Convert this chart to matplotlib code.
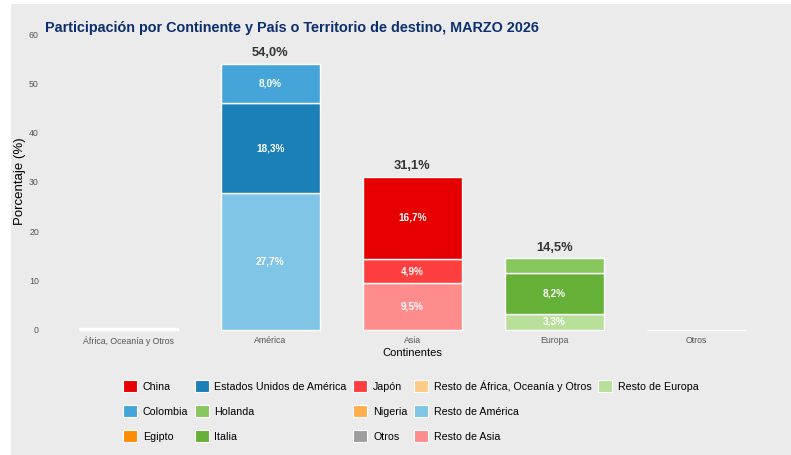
import matplotlib.pyplot as plt
from matplotlib.patches import Rectangle, Patch

plt.rcParams['font.family'] = ['Liberation Sans', 'DejaVu Sans']

TITLE = "Participación por Continente y País o Territorio de destino, MARZO 2026"
continents = ["África, Oceanía y Otros", "América", "Asia", "Europa", "Otros"]

# (pais, valor) in stacking order: resto at the bottom
africa = [("Resto de África, Oceanía y Otros", 0.1), ("Nigeria", 0.1), ("Egipto", 0.1)]
america = [("Resto de América", 27.7), ("Estados Unidos de América", 18.3), ("Colombia", 8.0)]
asia = [("Resto de Asia", 9.5), ("Japón", 4.9), ("China", 16.7)]
europa = [("Resto de Europa", 3.3), ("Italia", 8.2), ("Holanda", 3.0)]
otros = [("Otros", 0.05)]
totals = [0.3, 54.0, 31.1, 14.5, 0.05]

legend_names = ["China", "Colombia", "Egipto", "Estados Unidos de América",
                "Holanda", "Italia", "Japón", "Nigeria", "Otros",
                "Resto de África, Oceanía y Otros", "Resto de América",
                "Resto de Asia", "Resto de Europa"]

colors = {
    "China": "#E60000",
    "Colombia": "#45A5D8",
    "Egipto": "#FF8C00",
    "Estados Unidos de América": "#1C80B8",
    "Holanda": "#88C65E",
    "Italia": "#65B037",
    "Japón": "#FF3F3F",
    "Nigeria": "#FFAD4D",
    "Otros": "#9E9E9E",
    "Resto de África, Oceanía y Otros": "#FFCC88",
    "Resto de América": "#80C4E6",
    "Resto de Asia": "#FF8C8C",
    "Resto de Europa": "#B8E09A",
}

fig = plt.figure(figsize=(7.91, 4.55), dpi=100)
fig.patch.set_facecolor("white")
bg = Rectangle((11 / 791, 0.0), 1 - 11 / 791, 1 - 4 / 455,
               transform=fig.transFigure, facecolor="#EBEBEB",
               edgecolor="none", zorder=-10)
fig.patches.append(bg)

ax = fig.add_axes([0.0544, 0.264, 0.934, 0.6775])
ax.patch.set_alpha(0)

groups = [africa, america, asia, europa, otros]
for i, grp in enumerate(groups):
    bottom = 0.0
    for name, val in grp:
        ax.bar(i, val, bottom=bottom, width=0.7, color=colors[name],
               edgecolor="white", linewidth=1.0)
        if val > 3.0:
            ax.text(i, bottom + val / 2, f"{val:.1f}%".replace(".", ","),
                    ha="center", va="center", color="white",
                    fontsize=7.2, fontweight="bold")
        bottom += val
    if totals[i] > 1:
        ax.annotate(f"{totals[i]:.1f}%".replace(".", ","), (i, totals[i]),
                    xytext=(0, 7.5), textcoords="offset points",
                    ha="center", va="center", fontsize=9.3,
                    fontweight="bold", color="#333333")

ax.set_xlim(-0.6, 4.6)
ax.set_ylim(-1, 61.5)
ax.set_yticks([0, 10, 20, 30, 40, 50, 60])
ax.set_xticks(range(len(continents)))
ax.set_xticklabels(continents)
ax.tick_params(axis="both", length=0, labelsize=6.3, colors="#555555")
ax.tick_params(axis="x", pad=1)
ax.tick_params(axis="y", pad=3)
for s in ax.spines.values():
    s.set_visible(False)
ax.set_xlabel("Continentes", fontsize=8, color="black", labelpad=1)
ax.set_ylabel("Porcentaje (%)", fontsize=9.5, color="black", labelpad=2)

fig.text(45 / 791, 1 - 28 / 455, TITLE, fontsize=10.4, fontweight="bold",
         color="#0D2F6E", ha="left", va="center")

# 13 entries in a 5x3 grid: pad the last column with two blank slots
handles = [Patch(facecolor=colors[n], edgecolor="white", linewidth=0.8)
           for n in legend_names]
labels = list(legend_names)
for _ in range(2):
    handles.append(Patch(facecolor="none", edgecolor="none"))
    labels.append("")
fig.legend(handles, labels, ncol=5, loc="upper left",
           bbox_to_anchor=(123 / 791, 1 - 380 / 455), frameon=False,
           fontsize=7.7, handlelength=1.3, handleheight=1.3,
           handletextpad=0.55, columnspacing=0.6, labelspacing=1.25,
           borderaxespad=0, borderpad=0)

fig.savefig("out.png", dpi=100, facecolor=fig.get_facecolor())
